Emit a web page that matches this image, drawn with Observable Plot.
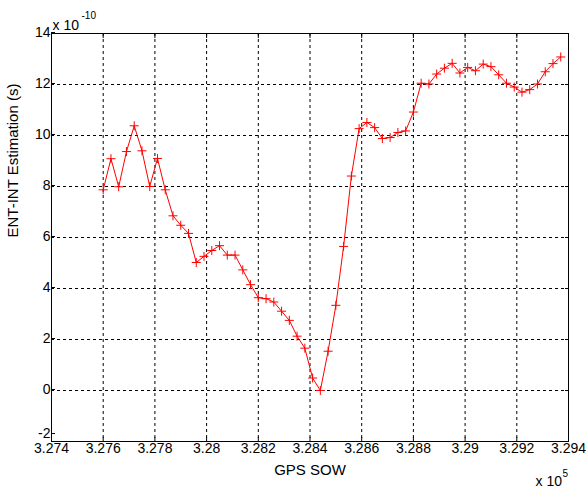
<!DOCTYPE html>
<html>
<head>
<meta charset="utf-8">
<script src="https://cdn.jsdelivr.net/npm/d3@7"></script>
<script src="https://cdn.jsdelivr.net/npm/@observablehq/plot@0.6"></script>
<style>
  html, body { margin: 0; padding: 0; background: #ffffff; }
  #chart svg { display: block; }
</style>
</head>
<body>
<div id="chart"></div>
<script>
// GPS seconds of week for each estimate
const sow = [
  327600, 327630, 327660, 327690, 327720, 327750, 327780, 327810, 327840, 327870,
  327900, 327930, 327960, 327990, 328020, 328050, 328080, 328110, 328140, 328170,
  328200, 328230, 328260, 328290, 328320, 328350, 328380, 328410, 328440, 328470,
  328500, 328530, 328560, 328590, 328620, 328650, 328680, 328710, 328740, 328770,
  328800, 328830, 328860, 328890, 328920, 328950, 328980, 329010, 329040, 329070,
  329100, 329130, 329160, 329190, 329220, 329250, 329280, 329310, 329340, 329370
];

// ENT-INT estimation, in units of 1e-10 s
const estimate = [
  7.87, 9.09, 7.99, 9.37, 10.38, 9.40, 8.00, 9.10, 7.87, 6.85,
  6.48, 6.16, 5.02, 5.26, 5.49, 5.68, 5.31, 5.31, 4.73, 4.15,
  3.64, 3.60, 3.47, 3.11, 2.75, 2.13, 1.66, 0.49, 0.00, 1.54,
  3.34, 5.65, 8.41, 10.27, 10.51, 10.31, 9.88, 9.92, 10.12, 10.18,
  10.92, 12.05, 12.02, 12.41, 12.64, 12.83, 12.45, 12.67, 12.54, 12.80,
  12.70, 12.38, 12.05, 11.90, 11.70, 11.80, 12.02, 12.50, 12.82, 13.08
];

// Axis ticks and their labels (x in units of 1e5 s)
const xTicks = [327400, 327600, 327800, 328000, 328200, 328400, 328600, 328800, 329000, 329200, 329400];
const xTickLabels = ["3.274", "3.276", "3.278", "3.28", "3.282", "3.284", "3.286", "3.288", "3.29", "3.292", "3.294"];
const yTicks = [-2, 0, 2, 4, 6, 8, 10, 12, 14];
const yTickLabels = ["-2", "0", "2", "4", "6", "8", "10", "12", "14"];

const data = sow.map((t, i) => ({sow: t, est: estimate[i]}));
const yLabel = d => yTickLabels[yTicks.indexOf(d)];

// "+" marker drawn as two stroked strokes
const plusMarker = {
  draw(context, size) {
    const r = Math.sqrt(size / Math.PI);
    context.moveTo(-r, 0);
    context.lineTo(r, 0);
    context.moveTo(0, -r);
    context.lineTo(0, r);
  }
};

const font = "'Liberation Sans', Arial, sans-serif";

const chart = Plot.plot({
  width: 587,
  height: 493,
  marginLeft: 51,
  marginRight: 19,
  marginTop: 33,
  marginBottom: 52,
  style: {background: "#ffffff", color: "#000000", fontFamily: font, fontSize: "14px"},
  x: {domain: [327400, 329400]},
  y: {domain: [-2, 14]},
  marks: [
    Plot.gridX(xTicks.slice(1, -1), {stroke: "#000000", strokeOpacity: 1, strokeDasharray: "3,3"}),
    Plot.gridY(yTicks.slice(1, -1), {stroke: "#000000", strokeOpacity: 1, strokeDasharray: "3,3"}),
    Plot.axisX({
      ticks: xTicks, tickSize: -4, tickPadding: 6, label: null,
      tickFormat: d => xTickLabels[xTicks.indexOf(d)], fontSize: 14
    }),
    Plot.axisX({anchor: "top", ticks: xTicks, tickSize: -4, label: null, tickFormat: () => ""}),
    Plot.axisY({
      ticks: yTicks.slice(1), tickSize: -4, tickPadding: 5, dy: -1, label: null,
      tickFormat: yLabel, fontSize: 14
    }),
    // the lowest y label sits a little higher so it clears the first x label
    Plot.axisY({
      ticks: yTicks.slice(0, 1), tickSize: -4, tickPadding: 5, dy: -8, label: null,
      tickFormat: yLabel, fontSize: 14
    }),
    Plot.axisY({anchor: "right", ticks: yTicks, tickSize: -4, label: null, tickFormat: () => ""}),
    Plot.frame({stroke: "#000000", strokeWidth: 1}),
    Plot.line(data, {x: "sow", y: "est", stroke: "#ff0000", strokeWidth: 1}),
    Plot.dot(data, {x: "sow", y: "est", symbol: plusMarker, r: 4.5, stroke: "#ff0000", strokeWidth: 1, fill: "none"}),
    // axis titles
    Plot.text(["GPS SOW"], {frameAnchor: "bottom", dy: 33, fontSize: 15, fill: "#000000"}),
    Plot.text(["ENT-INT Estimation (s)"], {frameAnchor: "left", dx: -38.5, rotate: -90, fontSize: 15, fill: "#000000"}),
    // exponent multipliers
    Plot.text(["x 10"], {frameAnchor: "top-left", textAnchor: "start", dx: 1, dy: -13, fontSize: 14, fill: "#000000"}),
    Plot.text(["-10"], {frameAnchor: "top-left", textAnchor: "start", dx: 30, dy: -22, fontSize: 10, fill: "#000000"}),
    Plot.text(["x 10"], {frameAnchor: "bottom-right", textAnchor: "start", dx: -33, dy: 44, fontSize: 14, fill: "#000000"}),
    Plot.text(["5"], {frameAnchor: "bottom-right", textAnchor: "start", dx: -6, dy: 35, fontSize: 10, fill: "#000000"})
  ]
});

document.getElementById("chart").appendChild(chart);
</script>
</body>
</html>
